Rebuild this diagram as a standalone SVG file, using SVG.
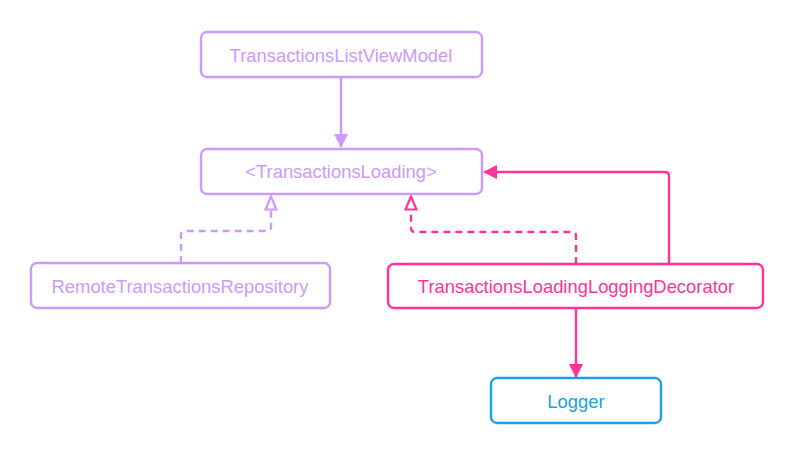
<svg xmlns="http://www.w3.org/2000/svg" width="794" height="455" viewBox="0 0 794 455">
<defs>
<marker id="fillP" viewBox="0 0 14 16" refX="13" refY="8" markerWidth="14" markerHeight="16" markerUnits="userSpaceOnUse" orient="auto"><path d="M0,1 L14,8 L0,15 Z" fill="#cc99ff"/></marker>
<marker id="fillK" viewBox="0 0 14 16" refX="13" refY="8" markerWidth="14" markerHeight="16" markerUnits="userSpaceOnUse" orient="auto"><path d="M0,1 L14,8 L0,15 Z" fill="#ff3399"/></marker>
<marker id="hollowP" viewBox="0 0 16 14" refX="15" refY="7" markerWidth="16" markerHeight="14" markerUnits="userSpaceOnUse" orient="auto"><path d="M1.5,1.5 L14.5,7 L1.5,12.5 Z" fill="#fff" stroke="#cc99ff" stroke-width="2.2"/></marker>
<marker id="hollowK" viewBox="0 0 16 14" refX="15" refY="7" markerWidth="16" markerHeight="14" markerUnits="userSpaceOnUse" orient="auto"><path d="M1.5,1.5 L14.5,7 L1.5,12.5 Z" fill="#fff" stroke="#ff3399" stroke-width="2.2"/></marker>
</defs>
<style>
.box{fill:#fff;stroke-width:2.4}
.p{stroke:#cc99ff}.k{stroke:#ff3399}.b{stroke:#1ba1e2}
text{font-family:"Liberation Sans",Arial,sans-serif;font-size:18.4px;text-anchor:middle;dominant-baseline:central}
.tp{fill:#cc99ff}.tk{fill:#ff3399}.tb{fill:#1ba1e2}
.c{fill:none;stroke-width:2.4}
.d{stroke-dasharray:7,5}
</style>
<rect width="794" height="455" fill="#fff"/>
<g id="connectors">
<path class="c p" d="M341,78 L341,147" marker-end="url(#fillP)"/>
<path class="c p d" d="M181,263 L181,235 Q181,231 185,231 L267,231 Q271,231 271,227 L271,196" marker-end="url(#hollowP)"/>
<path class="c k d" d="M576,264 L576,236 Q576,232 572,232 L415,232 Q411,232 411,228 L411,196" marker-end="url(#hollowK)"/>
<path class="c k" d="M669,264 L669,176 Q669,172 665,172 L484,172" marker-end="url(#fillK)"/>
<path class="c k" d="M576,308 L576,377" marker-end="url(#fillK)"/>
</g>
<g id="n1"><rect class="box p" x="201" y="32" width="281" height="45" rx="6"/><text class="tp" x="341" y="55">TransactionsListViewModel</text></g>
<g id="n2"><rect class="box p" x="201" y="149" width="281" height="45" rx="6"/><text class="tp" x="341" y="171">&lt;TransactionsLoading&gt;</text></g>
<g id="n3"><rect class="box p" x="31" y="263" width="299" height="45" rx="6"/><text class="tp" x="180" y="286">RemoteTransactionsRepository</text></g>
<g id="n4"><rect class="box k" x="388" y="264" width="375" height="44" rx="6"/><text class="tk" x="576" y="286">TransactionsLoadingLoggingDecorator</text></g>
<g id="n5"><rect class="box b" x="491" y="378" width="170" height="45" rx="6"/><text class="tb" x="576" y="401">Logger</text></g>
</svg>
